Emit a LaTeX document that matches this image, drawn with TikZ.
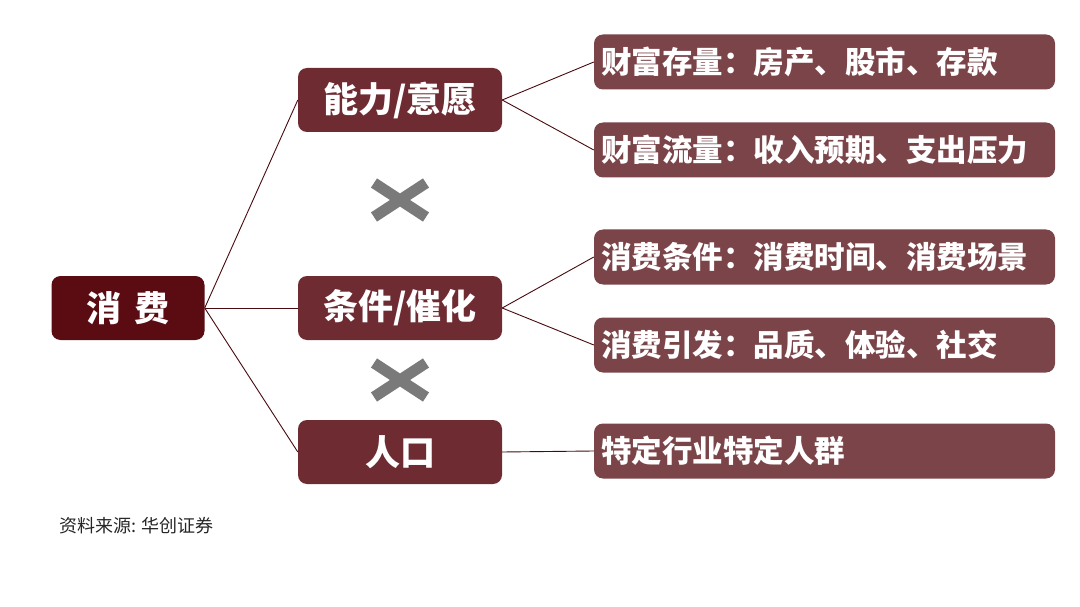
\documentclass[tikz,border=0pt]{standalone}
\usepackage{fontspec}
\setmainfont{Noto Sans CJK SC}
\definecolor{rootred}{HTML}{5A0C12}
\definecolor{midred}{HTML}{6E2C32}
\definecolor{leafred}{HTML}{7B4449}
\definecolor{crossgray}{HTML}{7A7A7A}
\tikzset{
	box/.style = {rounded corners=9pt, inner sep=0pt, text=white, font=\fontsize{35}{35}\selectfont\bfseries},
	rootbox/.style = {box, fill=rootred, minimum width=153pt, minimum height=64pt},
	midbox/.style = {box, fill=midred, minimum width=204pt, minimum height=64pt},
	leafbox/.style = {box, fill=leafred, minimum width=461pt, minimum height=55pt, text width=447pt, align=left, font=\fontsize{30.5}{30.5}\selectfont\bfseries},
	link/.style = {draw=rootred!80!black, line width=0.9pt},
	cross/.style = {draw=crossgray, line width=11pt}
}
\begin{document}
\begin{tikzpicture}[x=1pt,y=-1pt]
\useasboundingbox (0,0) rectangle (1080,607);
\node [rootbox] (cons) at (128,308) {消\hspace{0.35em}费};
\node [midbox] (ability) at (400,100) {能力/意愿};
\node [midbox] (cond) at (400,308) {条件/催化};
\node [midbox] (pop) at (400,452) {人口};
\node [leafbox] (stock) at (824.5,62) {财富存量：房产、股市、存款};
\node [leafbox] (flow) at (824.5,150) {财富流量：收入预期、支出压力};
\node [leafbox] (time) at (824.5,257) {消费条件：消费时间、消费场景};
\node [leafbox] (trigger) at (824.5,345) {消费引发：品质、体验、社交};
\node [leafbox] (group) at (824.5,451) {特定行业特定人群};
% connectors
\draw [link] (cons.east) -- (ability.west);
\draw [link] (cons.east) -- (cond.west);
\draw [link] (cons.east) -- (pop.west);
\draw [link] (ability.east) -- (stock.west);
\draw [link] (ability.east) -- (flow.west);
\draw [link] (cond.east) -- (time.west);
\draw [link] (cond.east) -- (trigger.west);
\draw [link] (pop.east) -- (group.west);
% crosses
\foreach \y in {200,380} {
	\draw [cross] (374,\y-17) -- (426,\y+17);
	\draw [cross] (374,\y+17) -- (426,\y-17);
}
\node [anchor=west, inner sep=0pt, font=\fontsize{18}{18}\selectfont, text=black!85] (source) at (59,526) {资料来源: 华创证券};
\end{tikzpicture}
\end{document}
